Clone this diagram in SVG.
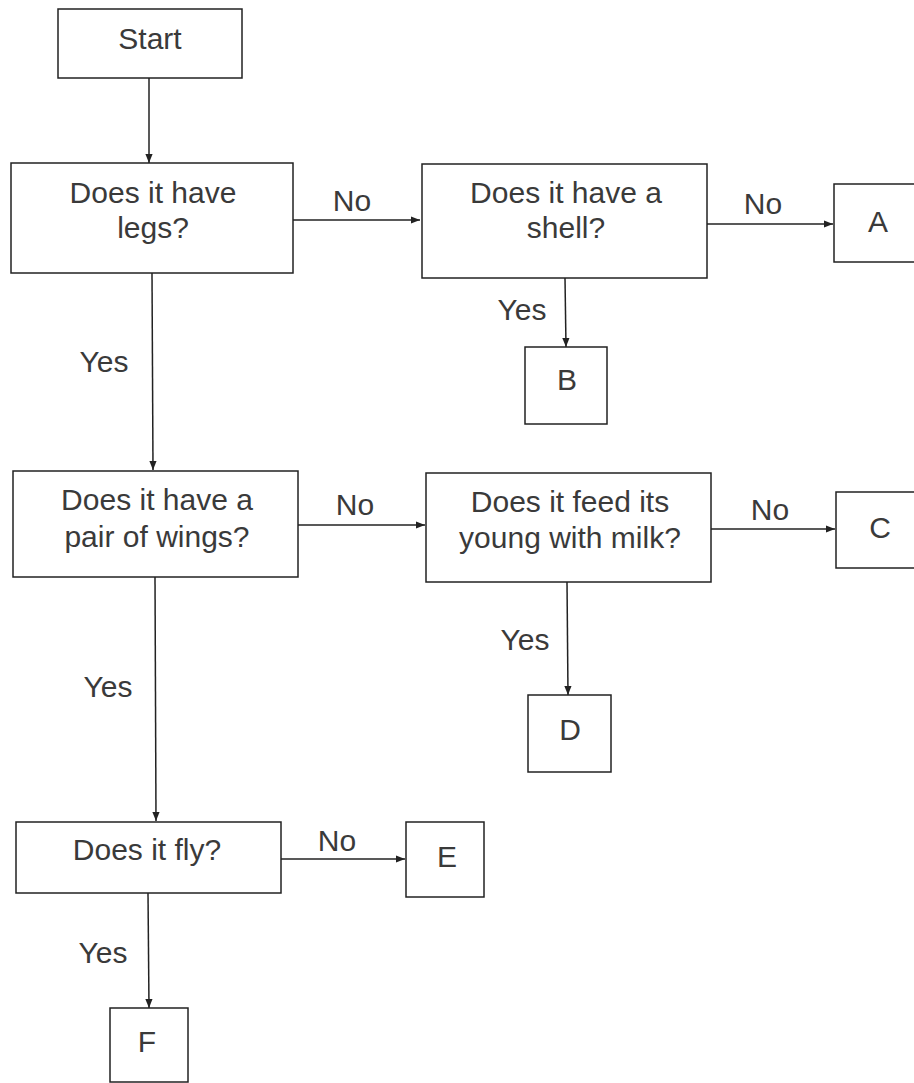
<svg xmlns="http://www.w3.org/2000/svg" width="914" height="1083" viewBox="0 0 914 1083">
<style>
.box{fill:#fff;stroke:#222;stroke-width:1.5}
.t{font-family:"Liberation Sans",Arial,sans-serif;font-size:30px;fill:#3a3a3a;text-anchor:middle}
.c{stroke:#222;stroke-width:1.5;fill:none}
</style>
<defs>
<marker id="ah" viewBox="0 0 10 10" refX="10" refY="5" markerWidth="9" markerHeight="9" markerUnits="userSpaceOnUse" orient="auto">
<path d="M0,1 L10,5 L0,9 Z" fill="#222"/>
</marker>
</defs>
<rect width="914" height="1083" fill="#fff"/>
<g id="connectors">
<line class="c" x1="149" y1="78" x2="149" y2="163" marker-end="url(#ah)"/>
<line class="c" x1="293" y1="220" x2="420" y2="220" marker-end="url(#ah)"/>
<line class="c" x1="152" y1="273" x2="153" y2="470" marker-end="url(#ah)"/>
<line class="c" x1="707" y1="224" x2="833" y2="224" marker-end="url(#ah)"/>
<line class="c" x1="565" y1="278" x2="566" y2="347" marker-end="url(#ah)"/>
<line class="c" x1="298" y1="525" x2="425" y2="525" marker-end="url(#ah)"/>
<line class="c" x1="711" y1="529" x2="835" y2="529" marker-end="url(#ah)"/>
<line class="c" x1="567" y1="582" x2="568" y2="695" marker-end="url(#ah)"/>
<line class="c" x1="155" y1="577" x2="156" y2="821" marker-end="url(#ah)"/>
<line class="c" x1="281" y1="859" x2="405" y2="859" marker-end="url(#ah)"/>
<line class="c" x1="148" y1="893" x2="149" y2="1008" marker-end="url(#ah)"/>
<text class="t" x="352" y="211">No</text>
<text class="t" x="104" y="372">Yes</text>
<text class="t" x="763" y="214">No</text>
<text class="t" x="522" y="320">Yes</text>
<text class="t" x="355" y="515">No</text>
<text class="t" x="108" y="697">Yes</text>
<text class="t" x="770" y="520">No</text>
<text class="t" x="525" y="650">Yes</text>
<text class="t" x="337" y="851">No</text>
<text class="t" x="103" y="963">Yes</text>
</g>
<g id="start">
<rect class="box" x="58" y="9" width="184" height="69"/>
<text class="t" x="150" y="49">Start</text>
</g>
<g id="legs">
<rect class="box" x="11" y="163" width="282" height="110"/>
<text class="t" x="153" y="203">Does it have</text>
<text class="t" x="153" y="238">legs?</text>
</g>
<g id="shell">
<rect class="box" x="422" y="164" width="285" height="114"/>
<text class="t" x="566" y="203">Does it have a</text>
<text class="t" x="566" y="238">shell?</text>
</g>
<g id="A">
<rect class="box" x="834" y="184" width="90" height="78"/>
<text class="t" x="878" y="232">A</text>
</g>
<g id="B">
<rect class="box" x="525" y="347" width="82" height="77"/>
<text class="t" x="567" y="390">B</text>
</g>
<g id="wings">
<rect class="box" x="13" y="471" width="285" height="106"/>
<text class="t" x="157" y="510">Does it have a</text>
<text class="t" x="157" y="547">pair of wings?</text>
</g>
<g id="milk">
<rect class="box" x="426" y="473" width="285" height="109"/>
<text class="t" x="570" y="512">Does it feed its</text>
<text class="t" x="570" y="548">young with milk?</text>
</g>
<g id="C">
<rect class="box" x="836" y="492" width="90" height="76"/>
<text class="t" x="880" y="538">C</text>
</g>
<g id="D">
<rect class="box" x="528" y="695" width="83" height="77"/>
<text class="t" x="570" y="740">D</text>
</g>
<g id="fly">
<rect class="box" x="16" y="822" width="265" height="71"/>
<text class="t" x="147" y="860">Does it fly?</text>
</g>
<g id="E">
<rect class="box" x="406" y="822" width="78" height="75"/>
<text class="t" x="447" y="867">E</text>
</g>
<g id="F">
<rect class="box" x="110" y="1008" width="78" height="74"/>
<text class="t" x="147" y="1052">F</text>
</g>
</svg>
